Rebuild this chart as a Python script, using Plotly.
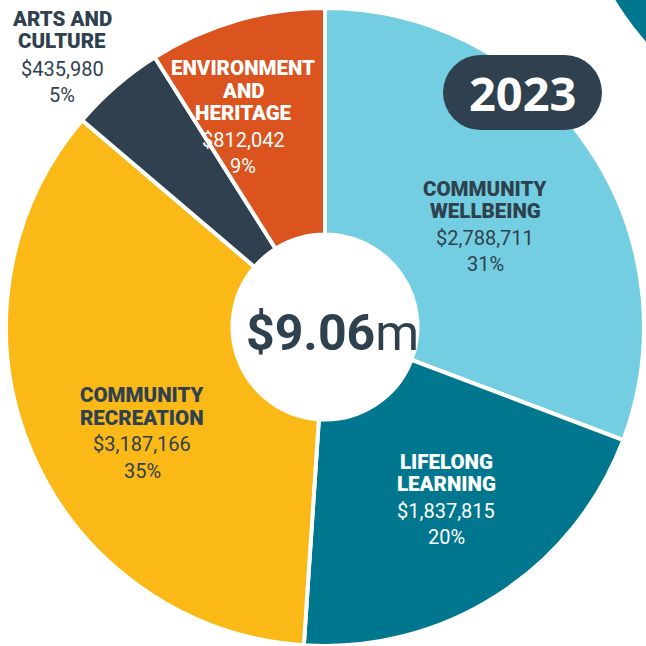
import math
import plotly.graph_objects as go

# ---- data ----
categories = ["COMMUNITY WELLBEING", "LIFELONG LEARNING", "COMMUNITY RECREATION",
              "ARTS AND CULTURE", "ENVIRONMENT AND HERITAGE"]
title_lines = [["COMMUNITY", "WELLBEING"], ["LIFELONG", "LEARNING"], ["COMMUNITY", "RECREATION"],
               ["ARTS AND", "CULTURE"], ["ENVIRONMENT", "AND", "HERITAGE"]]
amounts = [2788711, 1837815, 3187166, 435980, 812042]
percents = ["31%", "20%", "35%", "5%", "9%"]
total_label_bold = "$9.06"
total_label_unit = "m"
year_label = "2023"

# ---- styles ----
colors = ["#74CEE1", "#00768F", "#FBB918", "#2F414E", "#DB5420"]
text_colors = ["#2F414E", "#FFFFFF", "#2F414E", "#2F414E", "#FFFFFF"]
# pixel anchors: (x centre, first title line centre y)
label_pos = [(485, 188.5), (446, 461.5), (142, 395), (62, 19), (243, 68)]
DARK = "#2F414E"
W = H = 646
TITLE_STEP, VALUE_GAP, VALUE_STEP = 22.5, 27, 26


def px(x):
    return x / W


def py(y):
    return 1 - y / H


cx, cy, r = 325, 327, 319
fig = go.Figure(go.Pie(
    labels=categories, values=amounts, sort=False, direction="clockwise", rotation=0,
    hole=0.29, marker=dict(colors=colors, line=dict(color="white", width=4)),
    textinfo="none", hoverinfo="label+value+percent", showlegend=False,
    domain=dict(x=[max(0, px(cx - r)), min(1, px(cx + r))],
                y=[max(0, py(cy + r)), min(1, py(cy - r))]),
))

ann = []
for i, cat in enumerate(categories):
    x0, y = label_pos[i]
    for j, t in enumerate(title_lines[i]):
        if j > 0:
            y += TITLE_STEP
        ann.append(dict(x=px(x0), y=py(y), xref="paper", yref="paper", showarrow=False,
                        text=t, xanchor="center", yanchor="middle",
                        font=dict(family="Roboto", size=20.5, color=text_colors[i], weight=900)))
    for k, t in enumerate([f"${amounts[i]:,}", percents[i]]):
        y += VALUE_GAP if k == 0 else VALUE_STEP
        ann.append(dict(x=px(x0), y=py(y), xref="paper", yref="paper", showarrow=False,
                        text=t, xanchor="center", yanchor="middle",
                        font=dict(family="Roboto", size=20, color=text_colors[i])))

ann.append(dict(x=px(332), y=py(333), xref="paper", yref="paper", showarrow=False,
                text=f"<b>{total_label_bold}</b>{total_label_unit}", xanchor="center", yanchor="middle",
                font=dict(family="Roboto", size=50, color=DARK)))
ann.append(dict(x=px(523), y=py(93), xref="paper", yref="paper", showarrow=False,
                text=f"<b>{year_label}</b>", xanchor="center", yanchor="middle",
                font=dict(family="Open Sans", size=47, color="white")))

# neighbouring chart's edge in the top-right corner (polygon along a circle arc)
ccx, ccy, cr = 886, -167, 318
a0 = math.atan2(0 - ccy, 615 - ccx)
a1 = math.atan2(50 - ccy, 652 - ccx)
pts = []
for s in range(41):
    a = a0 + (a1 - a0) * s / 40
    pts.append((ccx + cr * math.cos(a), ccy + cr * math.sin(a)))
corner = "M " + " L ".join(f"{px(x):.5f} {py(y):.5f}" for x, y in pts)
corner += f" L {px(646):.5f} {py(0):.5f} Z"

# rounded badge: rectangle + two end circles
bx0, bx1, by0, by1 = 443, 602, 55, 130
rr = (by1 - by0) / 2
shapes = [
    dict(type="path", xref="paper", yref="paper", path=corner,
         fillcolor="#00768F", line=dict(width=0)),
    dict(type="rect", xref="paper", yref="paper", x0=px(bx0 + rr), x1=px(bx1 - rr),
         y0=py(by1), y1=py(by0), fillcolor=DARK, line=dict(width=0)),
    dict(type="circle", xref="paper", yref="paper", x0=px(bx0), x1=px(bx0 + 2 * rr),
         y0=py(by1), y1=py(by0), fillcolor=DARK, line=dict(width=0)),
    dict(type="circle", xref="paper", yref="paper", x0=px(bx1 - 2 * rr), x1=px(bx1),
         y0=py(by1), y1=py(by0), fillcolor=DARK, line=dict(width=0)),
]

fig.update_layout(width=W, height=H, margin=dict(l=0, r=0, t=0, b=0),
                  paper_bgcolor="white", plot_bgcolor="white",
                  annotations=ann, shapes=shapes)
fig.write_html("out.html", config={"displayModeBar": False},
               post_script="document.body.style.margin='0px';document.body.style.overflow='hidden';")
